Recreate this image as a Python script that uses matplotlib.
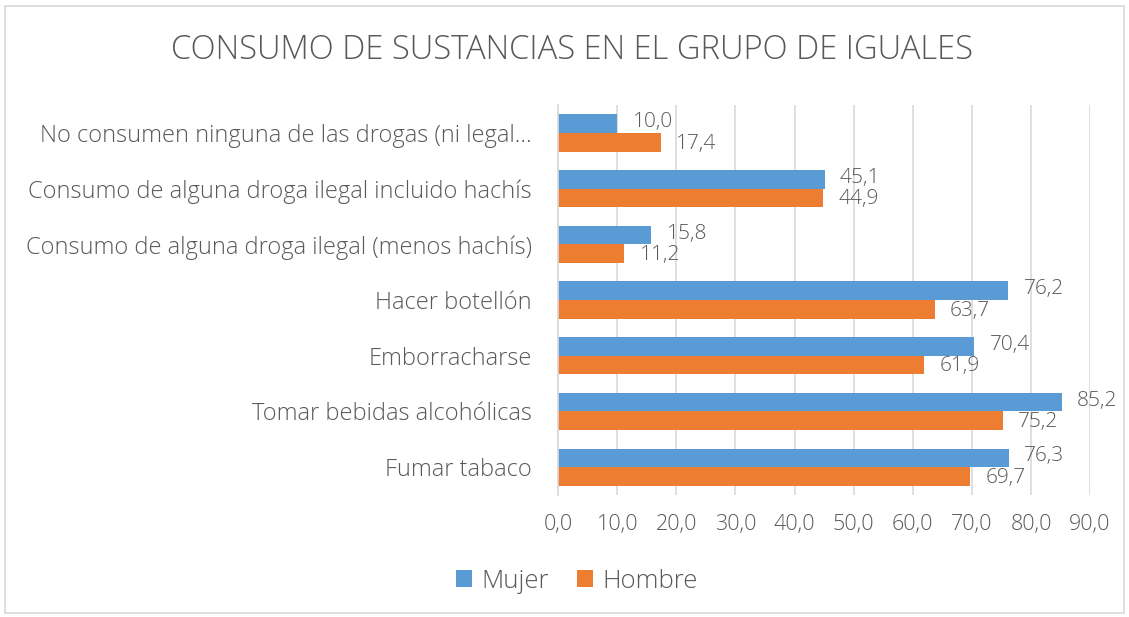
import numpy as np
import matplotlib.pyplot as plt
from matplotlib.patches import Rectangle

categories = [
    "No consumen ninguna de las drogas (ni legal…",
    "Consumo de alguna droga ilegal incluido hachís",
    "Consumo de alguna droga ilegal (menos hachís)",
    "Hacer botellón",
    "Emborracharse",
    "Tomar bebidas alcohólicas",
    "Fumar tabaco",
]
mujer = [10.0, 45.1, 15.8, 76.2, 70.4, 85.2, 76.3]
hombre = [17.4, 44.9, 11.2, 63.7, 61.9, 75.2, 69.7]
xticks = np.arange(0, 100, 10)

TXT = "#595959"
BLUE = "#5B9BD5"
ORANGE = "#ED7D31"
plt.rcParams["font.family"] = ["Open Sans", "DejaVu Sans"]
plt.rcParams["font.weight"] = "light"

fig = plt.figure(figsize=(11.29, 6.17), dpi=100)
ax = fig.add_axes([0.4943, 0.1977, 0.4712, 0.632])

y = np.arange(len(categories))
h = 0.335
bm = ax.barh(y - h / 2, mujer, height=h, color=BLUE, label="Mujer")
bh = ax.barh(y + h / 2, hombre, height=h, color=ORANGE, label="Hombre")

fmt = lambda v: f"{v:.1f}".replace(".", ",")
for bars, vals, dy in [(bm, mujer, 1), (bh, hombre, -1)]:
    for b, v in zip(bars, vals):
        ax.annotate(fmt(v), (v, b.get_y() + b.get_height() / 2),
                    xytext=(11, dy), textcoords="offset points",
                    ha="left", va="center", fontsize=15, color=TXT)

ax.set_xlim(0, 90)
ax.set_ylim(len(categories) - 0.5, -0.5)
ax.set_xticks(xticks)
ax.set_xticklabels([fmt(t) for t in xticks])
ax.set_yticks(y)
ax.set_yticklabels(categories)
ax.tick_params(axis="x", length=0, labelsize=15.5, labelcolor=TXT, pad=14)
ax.tick_params(axis="y", length=0, labelsize=17, labelcolor=TXT, pad=19)
ax.grid(axis="x", color="#d9d9d9", linewidth=1.2)
ax.set_axisbelow(True)
for s in ["top", "right", "bottom"]:
    ax.spines[s].set_visible(False)
ax.spines["left"].set_color("#d9d9d9")
ax.spines["left"].set_linewidth(1.2)

fig.text(0.507, 0.918, "CONSUMO DE SUSTANCIAS EN EL GRUPO DE IGUALES",
         ha="center", va="center", fontsize=23.6, color=TXT)

fig.legend(handles=[bm, bh], loc="center", bbox_to_anchor=(0.511, 0.058),
           ncol=2, frameon=False, fontsize=18.5, labelcolor=TXT,
           handlelength=0.62, handleheight=0.62, handletextpad=0.35,
           columnspacing=1.1)

fig.patches.append(Rectangle((5 / 1129, 4 / 617), 1119 / 1129, 607 / 617,
                             transform=fig.transFigure, fill=False,
                             edgecolor="#d9d9d9", linewidth=1.2))

fig.savefig("out.png", dpi=100)
